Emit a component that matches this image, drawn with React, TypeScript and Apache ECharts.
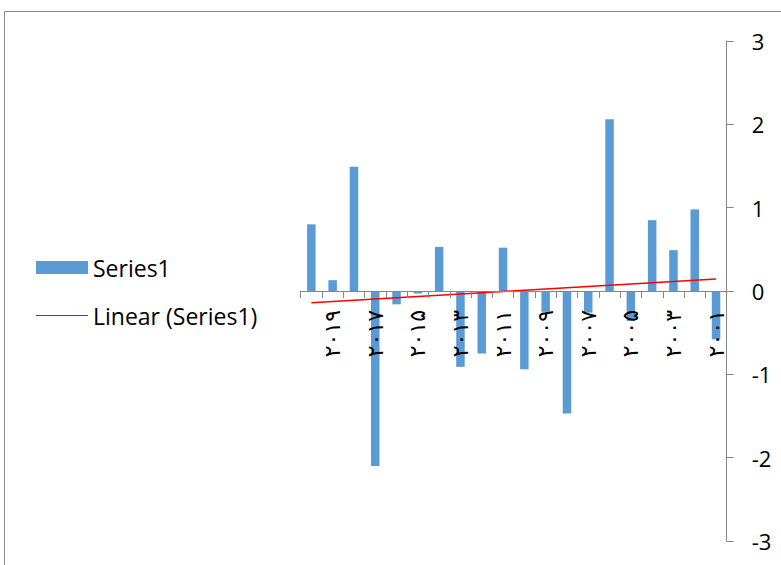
import React, { useEffect, useRef } from "react";
import * as echarts from "echarts";

// Years in Persian digits, first category drawn at the right (reversed axis)
const years: string[] = [
  "۲۰۰۱", "۲۰۰۲", "۲۰۰۳", "۲۰۰۴", "۲۰۰۵", "۲۰۰۶", "۲۰۰۷", "۲۰۰۸", "۲۰۰۹", "۲۰۱۰",
  "۲۰۱۱", "۲۰۱۲", "۲۰۱۳", "۲۰۱۴", "۲۰۱۵", "۲۰۱۶", "۲۰۱۷", "۲۰۱۸", "۲۰۱۹", "۲۰۲۰",
];

const series1: number[] = [
  -0.58, 0.98, 0.49, 0.85, -0.36, 2.06, -0.26, -1.47, -0.25, -0.94,
  0.52, -0.75, -0.91, 0.53, -0.03, -0.16, -2.1, 1.49, 0.13, 0.8,
];

const yTicks = { min: -3, max: 3, step: 1 };

// Least-squares linear trend over category index
function linearTrend(values: number[]): number[] {
  const n = values.length;
  const mx = (n - 1) / 2;
  const my = values.reduce((a, b) => a + b, 0) / n;
  let sxy = 0;
  let sxx = 0;
  values.forEach((v, i) => {
    sxy += (i - mx) * (v - my);
    sxx += (i - mx) * (i - mx);
  });
  const slope = sxy / sxx;
  return values.map((_, i) => +(my + slope * (i - mx)).toFixed(4));
}

const AXIS_GRAY = "#868686";
const TEXT_FONT = "Open Sans";
const GRID_TOP = 41;
const GRID_BOTTOM = 24;
const CHART_H = 565;

export default function App() {
  const ref = useRef<HTMLDivElement>(null);

  useEffect(() => {
    if (!ref.current) return;
    const chart = echarts.init(ref.current, undefined, { renderer: "svg" });
    const trend = linearTrend(series1);

    // The category axis sits on the zero line: lift it from the grid bottom
    const plotH = CHART_H - GRID_TOP - GRID_BOTTOM;
    const zeroLift = (plotH * (0 - yTicks.min)) / (yTicks.max - yTicks.min);

    chart.setOption({
      animation: false,
      backgroundColor: "#ffffff",
      grid: {
        left: 300.7,
        right: 54.3,
        top: GRID_TOP,
        bottom: GRID_BOTTOM,
        containLabel: false,
        outerBoundsMode: "none",
      },
      graphic: [
        {
          type: "rect",
          shape: { x: 4.5, y: 11.5, width: 800, height: 600 },
          style: { fill: "none", stroke: "#8a8a8a", lineWidth: 1 },
          silent: true,
        },
      ],
      legend: [
        {
          data: [{ name: "Series1", icon: "rect" }],
          left: 36,
          top: 256,
          padding: 0,
          itemWidth: 52,
          itemHeight: 13,
          textStyle: { fontFamily: TEXT_FONT, fontSize: 23, color: "#000" },
          selectedMode: false,
        },
        {
          data: [{ name: "Linear (Series1)", icon: "rect" }],
          left: 36,
          top: 304,
          padding: 0,
          itemWidth: 52,
          itemHeight: 1.2,
          itemStyle: { color: "#ff0000" },
          textStyle: { fontFamily: TEXT_FONT, fontSize: 23, color: "#000" },
          selectedMode: false,
        },
      ],
      xAxis: {
        type: "category",
        data: years,
        inverse: true,
        boundaryGap: true,
        offset: -zeroLift,
        z: 10,
        axisLine: { show: true, onZero: false, lineStyle: { color: AXIS_GRAY, width: 1 } },
        axisTick: { show: true, interval: 0, length: 7, lineStyle: { color: AXIS_GRAY } },
        axisLabel: {
          interval: 1,
          rotate: 90,
          margin: 19,
          fontFamily: "DejaVu Sans",
          fontSize: 22,
          color: "#000",
        },
        splitLine: { show: false },
      },
      yAxis: {
        type: "value",
        position: "right",
        min: yTicks.min,
        max: yTicks.max,
        interval: yTicks.step,
        axisLine: { show: true, lineStyle: { color: AXIS_GRAY, width: 1 } },
        axisTick: { show: true, length: 7, lineStyle: { color: AXIS_GRAY } },
        axisLabel: { margin: 25, fontFamily: TEXT_FONT, fontSize: 22, color: "#000" },
        splitLine: { show: false },
      },
      series: [
        {
          name: "Series1",
          type: "bar",
          data: series1,
          barWidth: 8.5,
          itemStyle: { color: "#5b9bd5" },
        },
        {
          name: "Linear (Series1)",
          type: "line",
          data: trend,
          symbol: "none",
          lineStyle: { color: "#ff0000", width: 1.5 },
          itemStyle: { color: "#ff0000" },
          z: 5,
        },
      ],
    });

    return () => chart.dispose();
  }, []);

  return (
    <div
      ref={ref}
      style={{ position: "absolute", left: 0, top: 0, width: 781, height: 565 }}
    />
  );
}
